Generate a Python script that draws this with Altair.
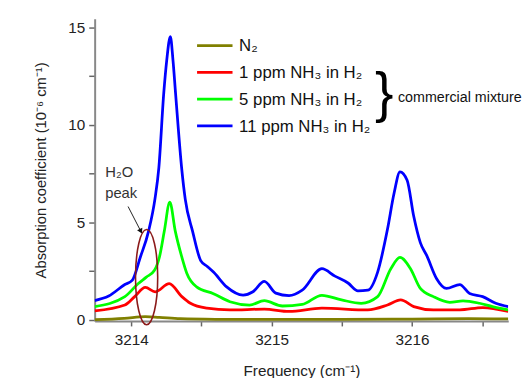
import altair as alt
import pandas as pd

# ---- data ----
series_names = ["N₂", "1 ppm NH₃ in H₂", "5 ppm NH₃ in H₂", "11 ppm NH₃ in H₂"]
series_colors = ["#808000", "#ff0000", "#00ff00", "#0000ff"]

n2_x = [3213.74, 3213.95, 3214.1, 3214.2, 3214.35, 3214.6, 3215.0, 3215.5, 3216.0, 3216.4, 3216.685]
n2_y = [0.02, 0.08, 0.18, 0.14, 0.07, 0.04, 0.03, 0.03, 0.05, 0.07, 0.06]

red_x = [3213.74, 3213.955, 3214.025, 3214.101, 3214.171, 3214.271, 3214.361, 3214.422, 3214.539,
         3214.703, 3214.948, 3215.124, 3215.358, 3215.685, 3215.825, 3215.919, 3216.012, 3216.152,
         3216.34, 3216.503, 3216.685]
red_y = [0.47, 0.77, 1.2, 1.67, 1.45, 1.87, 1.2, 0.86, 0.61,
         0.52, 0.56, 0.44, 0.61, 0.52, 0.77, 1.03, 0.69, 0.52,
         0.52, 0.64, 0.44]

green_x = [3213.74, 3213.955, 3214.049, 3214.108, 3214.166, 3214.201, 3214.236, 3214.275, 3214.314,
           3214.361, 3214.396, 3214.466, 3214.586, 3214.703, 3214.843, 3214.948, 3215.077, 3215.218,
           3215.358, 3215.498, 3215.638, 3215.755, 3215.849, 3215.914, 3215.989, 3216.059, 3216.152,
           3216.269, 3216.363, 3216.48, 3216.573, 3216.685]
green_y = [0.69, 1.2, 1.86, 2.2, 2.55, 3.22, 4.56, 6.04, 4.56,
           3.22, 2.4, 1.7, 1.35, 0.94, 0.77, 0.99, 0.72, 0.8,
           1.27, 1.03, 0.86, 1.2, 2.63, 3.21, 2.63, 1.62, 1.2,
           0.91, 0.98, 0.86, 0.69, 0.52]

blue_x = [3213.74, 3213.84, 3213.955, 3214.007, 3214.065, 3214.124, 3214.17, 3214.197, 3214.232,
          3214.253, 3214.279, 3214.298, 3214.316, 3214.361, 3214.385, 3214.437, 3214.495, 3214.542,
          3214.586, 3214.68, 3214.797, 3214.867, 3214.948, 3215.03, 3215.124, 3215.218, 3215.358,
          3215.451, 3215.544, 3215.615, 3215.685, 3215.755, 3215.825, 3215.872, 3215.914, 3215.965,
          3216.012, 3216.059, 3216.105, 3216.175, 3216.245, 3216.34, 3216.41, 3216.503, 3216.596,
          3216.685]
blue_y = [1.0, 1.23, 1.82, 2.03, 3.22, 4.56, 6.24, 7.8, 11.63,
          13.3, 14.53, 13.3, 11.63, 7.68, 6.2, 4.56, 3.05, 2.75,
          2.46, 1.70, 1.28, 1.45, 1.98, 1.38, 1.25, 1.53, 2.63,
          2.25, 1.9, 1.5, 1.53, 2.46, 4.65, 6.5, 7.6, 7.17,
          5.32, 3.97, 3.3, 2.12, 1.62, 1.82, 1.36, 1.2, 0.86,
          0.69]

x_ticks = [3214, 3214.5, 3215, 3215.5, 3216, 3216.5]
y_ticks = [0, 2.5, 5, 7.5, 10, 12.5, 15]

# annotation anchors (data coordinates)
ellipse_center = [3214.110, 2.2]
arrow_from = [3213.978, 5.82]
arrow_to = [3214.066, 4.59]
note_lines = ["H₂O", "peak"]
note_x = [3213.915, 3213.929]
note_y = [7.57, 6.51]

# ---- layout ----
W, H = 420, 307
FONT = "Liberation Sans"
xscale = alt.Scale(domain=[3213.74, 3216.685], nice=False, zero=False)
yscale = alt.Scale(domain=[-0.05, 15.45], nice=False, zero=False)

xaxis = alt.Axis(values=x_ticks, labelExpr="datum.value % 1 == 0 ? format(datum.value, '.0f') : ''",
                 title="Frequency (cm⁻¹)", grid=False, tickSize=5, tickWidth=1.5, tickColor="#666",
                 domainColor="#888", domainWidth=2, labelFontSize=15.5, labelColor="#222",
                 labelPadding=7, titleFontSize=15.5, titleFontWeight="normal", titleColor="#222",
                 titleBaseline="middle", titleY=50, titleX=W / 2)
yaxis = alt.Axis(values=y_ticks, labelExpr="datum.value % 5 == 0 ? format(datum.value, '.0f') : ''",
                 title="Absorption coefficient (10⁻⁶ cm⁻¹)", grid=False, tickSize=6, tickWidth=1.5,
                 tickColor="#666", domainColor="#888", domainWidth=2, labelFontSize=15.5,
                 labelColor="#222", labelPadding=4, titleFontSize=15, titleFontWeight="normal",
                 titleColor="#222", titleBaseline="middle", titleX=-55, titleY=H / 2, titleAngle=270)

series = [(n2_x, n2_y), (red_x, red_y), (green_x, green_y), (blue_x, blue_y)]
layers = []
for i, (xs, ys) in enumerate(series):
    df = pd.DataFrame({"freq": xs, "absorb": ys})
    layers.append(
        alt.Chart(df).mark_line(strokeWidth=2.8, interpolate="monotone", clip=True,
                                color=series_colors[i]).encode(
            x=alt.X("freq:Q", scale=xscale, axis=xaxis),
            y=alt.Y("absorb:Q", scale=yscale, axis=yaxis),
        )
    )

# H2O ellipse
ell_df = pd.DataFrame({"freq": [ellipse_center[0]], "absorb": [ellipse_center[1]]})
ellipse_path = "M 0 -1 A 0.233 1 0 1 1 0 1 A 0.233 1 0 1 1 0 -1 Z"
layers.append(alt.Chart(ell_df).mark_point(shape=ellipse_path, size=(2 * 48.3) ** 2, filled=False,
                                           stroke="#8b1a1a", strokeWidth=1.6, opacity=1).encode(
    x=alt.X("freq:Q", scale=xscale), y=alt.Y("absorb:Q", scale=yscale)))

# arrow
arr_df = pd.DataFrame({"x1": [arrow_from[0]], "y1": [arrow_from[1]], "x2": [arrow_to[0]], "y2": [arrow_to[1]]})
layers.append(alt.Chart(arr_df).mark_rule(color="#222", strokeWidth=1).encode(
    x=alt.X("x1:Q", scale=xscale), y=alt.Y("y1:Q", scale=yscale), x2="x2:Q", y2="y2:Q"))
layers.append(alt.Chart(arr_df).mark_point(shape="triangle", angle=154, filled=True, size=35,
                                           color="#111", opacity=1).encode(
    x=alt.X("x2:Q", scale=xscale), y=alt.Y("y2:Q", scale=yscale)))

# note text
note_df = pd.DataFrame({"t": note_lines, "freq": note_x, "absorb": note_y})
layers.append(alt.Chart(note_df).mark_text(fontSize=15, font=FONT, color="#333", align="center",
                                           baseline="middle").encode(
    x=alt.X("freq:Q", scale=xscale), y=alt.Y("absorb:Q", scale=yscale), text="t:N"))

# legend (manual)
leg_x0, leg_x1, leg_tx, leg_y0, leg_dy = 104, 140, 146.7, 27.3, 27.2
for i, name in enumerate(series_names):
    ldf = pd.DataFrame({"label": [name]})
    yy = leg_y0 + i * leg_dy
    layers.append(alt.Chart(ldf).mark_rule(color=series_colors[i], strokeWidth=2.8).encode(
        x=alt.value(leg_x0), x2=alt.value(leg_x1), y=alt.value(yy)))
    layers.append(alt.Chart(ldf).mark_text(fontSize=17, font=FONT, color="#111", align="left",
                                           baseline="middle").encode(
        x=alt.value(leg_tx), y=alt.value(yy + 1), text="label:N"))

bdf = pd.DataFrame({"b": ["}"], "c": ["commercial mixture"]})
layers.append(alt.Chart(bdf).mark_text(fontSize=56, font=FONT, color="#000",
                                       align="center", baseline="middle").encode(
    x=alt.value(294), y=alt.value(77), text="b:N"))
layers.append(alt.Chart(bdf).mark_text(fontSize=14.5, font=FONT, color="#111", align="left",
                                       baseline="middle").encode(
    x=alt.value(308), y=alt.value(81), text="c:N"))

chart = alt.layer(*layers).properties(
    width=W, height=H, autosize="none",
    padding={"left": 88, "top": 8, "right": 16, "bottom": 55},
).configure(font=FONT).configure_view(stroke=None)

chart.save("out.html", embed_options={"renderer": "svg", "actions": False})
